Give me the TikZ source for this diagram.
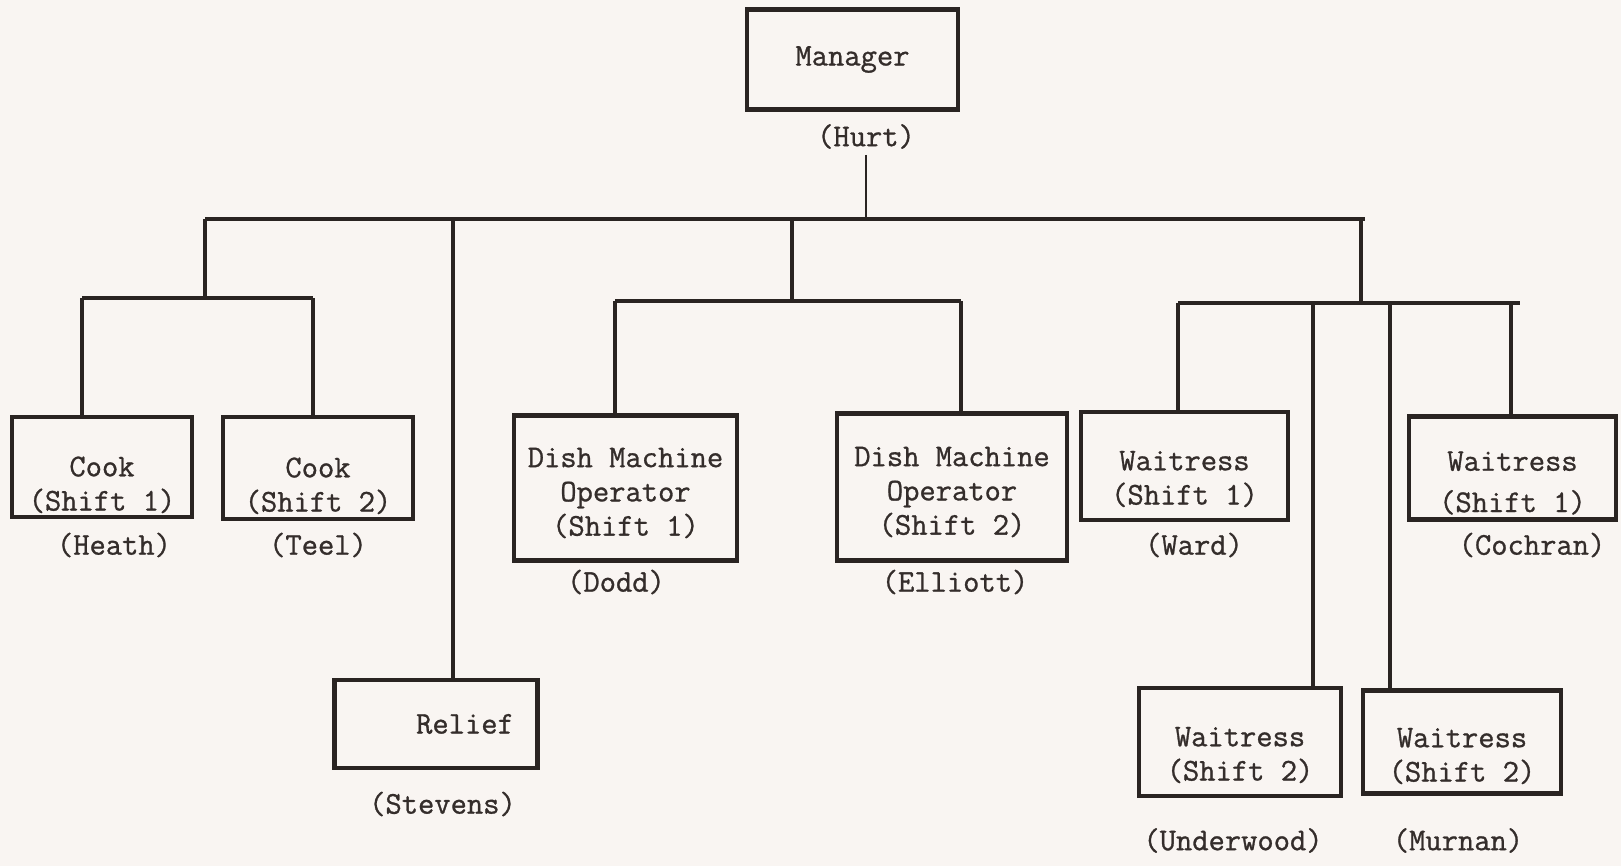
\documentclass[tikz,border=0pt]{standalone}
\usepackage{fontspec}
\newfontfamily\typed{Latin Modern Mono}[FakeBold=0.9]
\definecolor{paper}{RGB}{249,245,242}
\definecolor{ink}{RGB}{42,36,34}
\definecolor{type}{RGB}{52,45,43}
% push typed lines down inside a box (amount in px)
\newcommand{\dn}[1]{\rule{0pt}{\dimexpr 11pt+#1pt*114/100\relax}}
\tikzset{
  box/.style={draw=ink,line width=2.4pt,text=type,align=center,inner sep=0pt},
  who/.style={text=type},
  conn/.style={draw=ink,line width=2.1pt},
  stem/.style={draw=ink,line width=1.5pt},
}
\begin{document}
\begin{tikzpicture}[x=0.02cm,y=-0.02cm,font=\typed\fontsize{18}{19.5}\selectfont]
  \fill[paper] (0,0) rectangle (1621,866);
  % boxes
  \node[box,minimum width=4.22cm,minimum height=2.0cm] (mgr) at (852.5,59.5) {Manager};
  \node[box,minimum width=3.6cm,minimum height=2.0cm] (cook1) at (102,467) {\dn{18}Cook\\(Shift 1)};
  \node[box,minimum width=3.8cm,minimum height=2.04cm] (cook2) at (318,468) {\dn{18}Cook\\(Shift 2)};
  \node[box,minimum width=4.06cm,minimum height=1.76cm] (relief) at (436,724) {\hspace*{1.16cm}Relief};
  \node[box,minimum width=4.46cm,minimum height=2.9cm] (dish1) at (625.5,488) {\dn{5}Dish Machine\\Operator\\(Shift 1)};
  \node[box,minimum width=4.6cm,minimum height=2.94cm] (dish2) at (952,487) {\dn{5}Dish Machine\\Operator\\(Shift 2)};
  \node[box,minimum width=4.14cm,minimum height=2.16cm] (ward) at (1184.5,466) {\dn{13}Waitress\\(Shift 1)};
  \node[box,minimum width=4.14cm,minimum height=2.06cm] (cochran) at (1512.5,468) {\dn{15}Waitress\\[4pt](Shift 1)};
  \node[box,minimum width=4.04cm,minimum height=2.16cm] (underwood) at (1240,742) {\dn{13}Waitress\\(Shift 2)};
  \node[box,minimum width=3.96cm,minimum height=2.06cm] (murnan) at (1462,742) {\dn{14}Waitress\\(Shift 2)};
  % names
  \node[who] (hurt) at (866,136.5) {(Hurt)};
  \node[who] (heath) at (114,545) {(Heath)};
  \node[who] (teel) at (318,545) {(Teel)};
  \node[who] (stevens) at (442.5,804) {(Stevens)};
  \node[who] (dodd) at (616,582) {(Dodd)};
  \node[who] (elliott) at (955,582) {(Elliott)};
  \node[who] (wardn) at (1194,545) {(Ward)};
  \node[who] (cochrann) at (1532,545) {(Cochran)};
  \node[who] (underwoodn) at (1233,840.5) {(Underwood)};
  \node[who] (murnann) at (1458,840.5) {(Murnan)};
  % joints
  \coordinate (barL) at (205,219);
  \coordinate (barR) at (1365,219);
  \coordinate (cookL) at (82,298);
  \coordinate (cookR) at (313,298);
  \coordinate (reliefj) at (453,219);
  \coordinate (dishL) at (615,301);
  \coordinate (dishR) at (961,301);
  \coordinate (dishM) at (792,301);
  \coordinate (waitL) at (1178,303);
  \coordinate (waitR) at (1520,303);
  \coordinate (waitM) at (1361,303);
  \coordinate (uwj) at (1313,303);
  \coordinate (muj) at (1390,303);
  \coordinate (coj) at (1511,303);
  % lines
  \draw[stem] (hurt.south) -- (hurt.south |- barL);
  \draw[conn] (barL) -- (barR);
  \draw[conn] (barL) -- (barL |- cookL);
  \draw[conn] (cookL) -- (cookR);
  \draw[conn] (cookL) -- (cookL |- cook1.north);
  \draw[conn] (cookR) -- (cookR |- cook2.north);
  \draw[conn] (reliefj) -- (reliefj |- relief.north);
  \draw[conn] (dishM |- barL) -- (dishM);
  \draw[conn] (dishL) -- (dishR);
  \draw[conn] (dishL) -- (dishL |- dish1.north);
  \draw[conn] (dishR) -- (dishR |- dish2.north);
  \draw[conn] (waitM |- barL) -- (waitM);
  \draw[conn] (waitL) -- (waitR);
  \draw[conn] (waitL) -- (waitL |- ward.north);
  \draw[conn] (coj) -- (coj |- cochran.north);
  \draw[conn] (uwj) -- (uwj |- underwood.north);
  \draw[conn] (muj) -- (muj |- murnan.north);
\end{tikzpicture}
\end{document}
